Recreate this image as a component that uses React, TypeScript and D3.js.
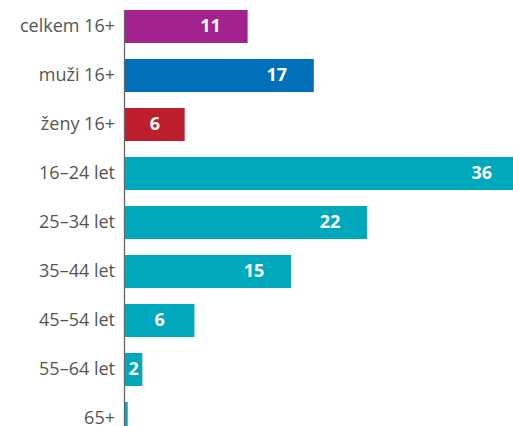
import React from 'react';
import * as d3 from 'd3';

const categories = ['celkem 16+', 'muži 16+', 'ženy 16+', '16–24 let', '25–34 let', '35–44 let', '45–54 let', '55–64 let', '65+'];
const values = [11.3, 17.4, 5.5, 36.3, 22.3, 15.3, 6.4, 1.6, 0.25];
const colors = ['#a3228d', '#0070ba', '#be1e2d', '#00a8bc', '#00a8bc', '#00a8bc', '#00a8bc', '#00a8bc', '#00a8bc'];

const width = 513;
const height = 426;

export default function App() {
    // x: 10.85 px per percent, starting at the axis
    const x = d3.scaleLinear().domain([0, 36]).range([125, 125 + 10.85 * 36]);
    const y = d3.scaleBand<string>()
        .domain(categories)
        .range([10, 435])
        .paddingInner(0.3265)
        .paddingOuter(0);

    const labelX = (v: number) => {
        const end = x(v);
        const mid = (x(0) + end) / 2;
        return Math.max(mid, end - 37);
    };

    const midY = (c: string) => (y(c) ?? 0) + y.bandwidth() / 2 - 1.5;

    return (
        <svg width={width} height={height} style={{ position: 'absolute', left: 0, top: 0, overflow: 'hidden' }}>
            {categories.map((c, i) => (
                <g key={c}>
                    <rect x={x(0)} y={y(c)} width={x(values[i]) - x(0)} height={y.bandwidth()} fill={colors[i]} />
                    <text
                        x={115}
                        y={midY(c)}
                        textAnchor="end"
                        dominantBaseline="central"
                        fontFamily="Open Sans"
                        fontSize={18}
                        fill="#555"
                    >{c}</text>
                    {Math.round(values[i]) >= 1 && (
                        <text
                            x={labelX(values[i])}
                            y={midY(c)}
                            textAnchor="middle"
                            dominantBaseline="central"
                            fontFamily="Open Sans"
                            fontWeight="bold"
                            fontSize={18}
                            fill="#fff"
                        >{Math.round(values[i])}</text>
                    )}
                </g>
            ))}
            <line x1={x(0) - 0.5} x2={x(0) - 0.5} y1={10} y2={height} stroke="#666" strokeWidth={1.3} />
        </svg>
    );
}
